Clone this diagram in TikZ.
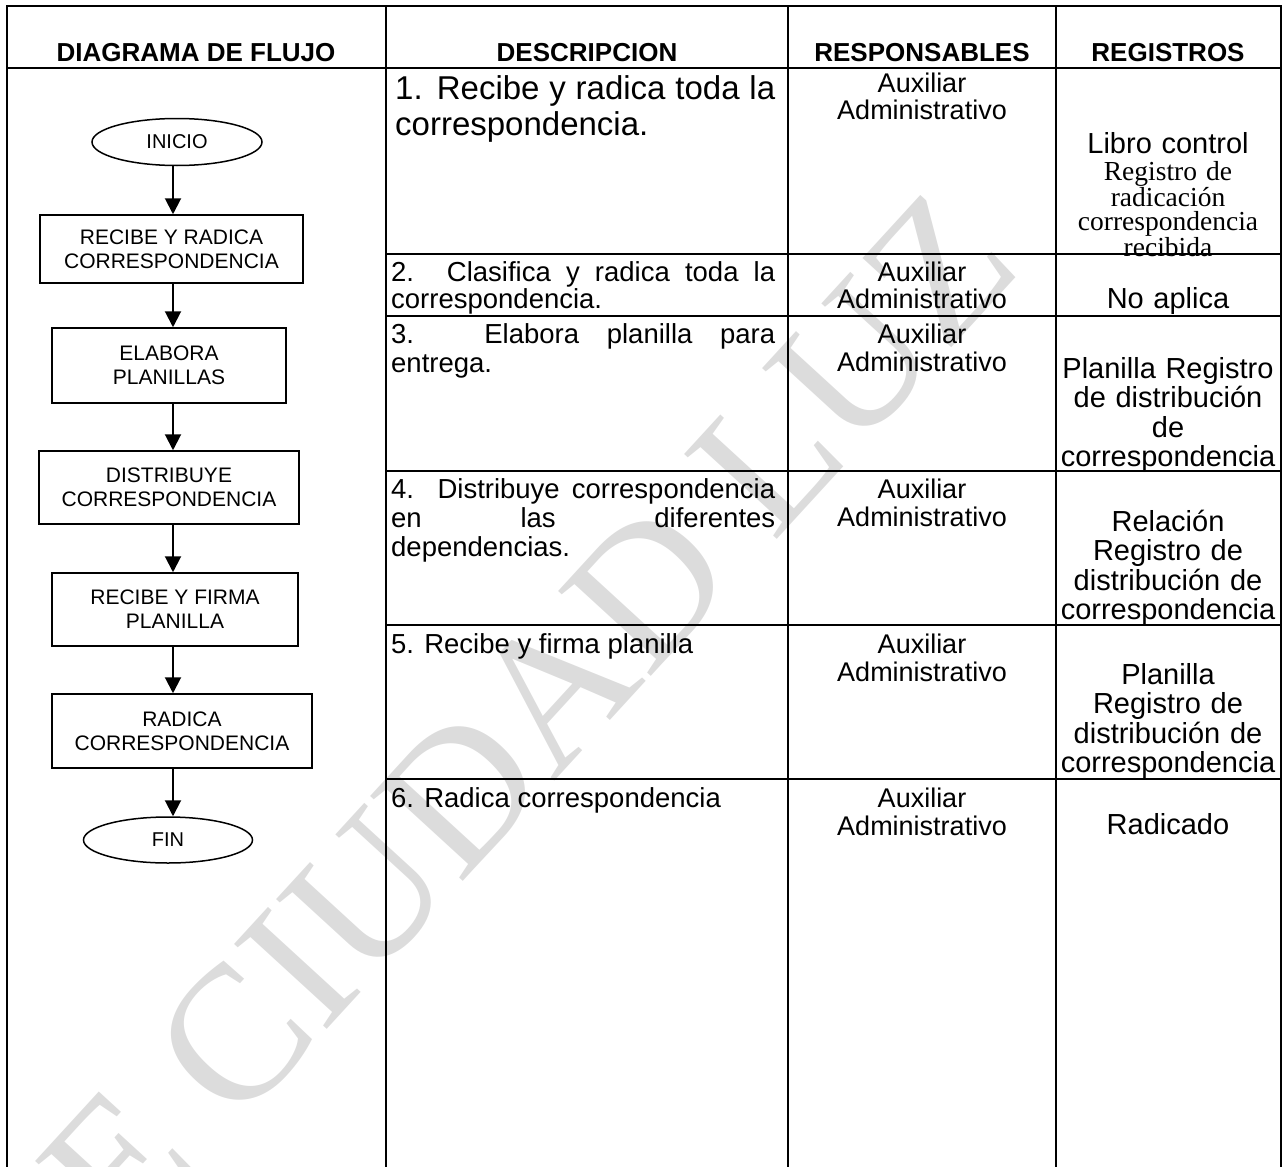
\documentclass[tikz,border=0pt]{standalone}
\usepackage{fontspec}
\setmainfont{Liberation Sans}
\newfontfamily\serifa{Liberation Serif}
\usetikzlibrary{shapes.geometric, arrows.meta, positioning}
\definecolor{marca}{HTML}{DCDCDC}
\hyphenpenalty=10000
\hbadness=10000
\tikzset{
  linea/.style={line width=2pt},
  term/.style={ellipse, draw, line width=1.5pt, minimum width=170pt, minimum height=47pt, inner sep=0pt, font=\fontsize{20}{23}\selectfont},
  proc/.style={rectangle, draw, line width=1.5pt, align=center, inner sep=0pt, font=\fontsize{21}{24}\selectfont},
  flecha/.style={-{Triangle[length=16pt, width=16pt]}, line width=2pt},
  titulo/.style={anchor=base, inner sep=0pt, font=\bfseries\fontsize{26}{30}\selectfont},
  desc/.style={anchor=base west, inner sep=0pt, text width=384pt, align=justify, font=\fontsize{27.5}{29}\selectfont},
  resp/.style={anchor=base, inner sep=0pt, text width=262pt, align=center, font=\fontsize{27}{28}\selectfont},
  reg/.style={anchor=base, inner sep=0pt, text width=222pt, align=center, font=\fontsize{29}{29.5}\selectfont},
}

\begin{document}
\begin{tikzpicture}[x=1pt, y=-1pt]
\useasboundingbox (0,0) rectangle (1286,1167);

% marca de agua
\begin{scope}
  \clip (0,0) rectangle (1286,1167);
  \node[text=marca, rotate=47.5, font=\serifa\fontsize{192}{192}\selectfont] (marca) at (482,768) {DE CIUDAD LUZ};
\end{scope}

% tabla
\draw[linea] (7,1167) -- (7,6) -- (1281,6) -- (1281,1167);
\draw[linea] (7,68) -- (1281,68);
\foreach \x in {386,788,1056} \draw[linea] (\x,6) -- (\x,1167);
\foreach \y in {254,316,471,625,779} \draw[linea] (386,\y) -- (1281,\y);

\node[titulo] (tflujo) at (196,61) {DIAGRAMA DE FLUJO};
\node[titulo] (tdesc) at (587,61) {DESCRIPCION};
\node[titulo] (tresp) at (922,61) {RESPONSABLES};
\node[titulo] (treg) at (1168,61) {REGISTROS};

% diagrama de flujo
\node[term] (inicio) at (177,142) {INICIO};
\node[proc, minimum width=263pt, minimum height=68pt] (recibe) at (171.5,249) {RECIBE Y RADICA\\CORRESPONDENCIA};
\node[proc, minimum width=234pt, minimum height=75pt] (elabora) at (169,365.5) {ELABORA\\PLANILLAS};
\node[proc, minimum width=260pt, minimum height=73pt] (distribuye) at (169,487.5) {DISTRIBUYE\\CORRESPONDENCIA};
\node[proc, minimum width=246pt, minimum height=73pt] (firma) at (175,609.5) {RECIBE Y FIRMA\\PLANILLA};
\node[proc, minimum width=260pt, minimum height=74pt] (radica) at (182,731) {RADICA\\CORRESPONDENCIA};
\node[term, minimum width=169pt, minimum height=46pt] (fin) at (168,840) {FIN};

\coordinate (eje) at (173,0);
\draw[flecha] (inicio.south -| eje) -- (recibe.north -| eje);
\draw[flecha] (recibe.south -| eje) -- (elabora.north -| eje);
\draw[flecha] (elabora.south -| eje) -- (distribuye.north -| eje);
\draw[flecha] (distribuye.south -| eje) -- (firma.north -| eje);
\draw[flecha] (firma.south -| eje) -- (radica.north -| eje);
\draw[flecha] (radica.south -| eje) -- (fin.north -| eje);

% descripcion
\node[desc, text width=380pt, font=\fontsize{33}{36}\selectfont] (d1) at (395,99) {1. Recibe y radica toda la correspondencia.};
\node[desc, font=\fontsize{27.5}{27}\selectfont] (d2) at (391,281) {2. Clasifica y radica toda la correspondencia.};
\node[desc] (d3) at (391,343) {3. Elabora planilla para\linebreak entrega.};
\node[desc] (d4) at (391,498) {4. Distribuye correspondencia\linebreak en las diferentes\linebreak dependencias.};
\node[desc] (d5) at (391,653) {5. Recibe y firma planilla};
\node[desc] (d6) at (391,807) {6. Radica correspondencia};

% responsables
\node[resp] (r1) at (922,92) {Auxiliar\\Administrativo};
\node[resp, font=\fontsize{27}{27}\selectfont] (r2) at (922,281) {Auxiliar\\Administrativo};
\node[resp] (r3) at (922,343) {Auxiliar\\Administrativo};
\node[resp] (r4) at (922,498) {Auxiliar\\Administrativo};
\node[resp] (r5) at (922,653) {Auxiliar\\Administrativo};
\node[resp] (r6) at (922,807) {Auxiliar\\Administrativo};

% registros
\node[reg] (g1) at (1168,153) {Libro control};
\node[reg, font=\serifa\fontsize{27.5}{24.5}\selectfont] (g1b) at (1168,180) {Registro de\\radicación\\correspondencia\\recibida};
\node[reg] (g2) at (1168,308) {No aplica};
\node[reg] (g3) at (1168,378) {Planilla Registro\\de distribución\\de\\correspondencia};
\node[reg] (g4) at (1168,531) {Relación\\Registro de\\distribución de\\correspondencia};
\node[reg] (g5) at (1168,684) {Planilla\\Registro de\\distribución de\\correspondencia};
\node[reg] (g6) at (1168,834) {Radicado};
\end{tikzpicture}
\end{document}
